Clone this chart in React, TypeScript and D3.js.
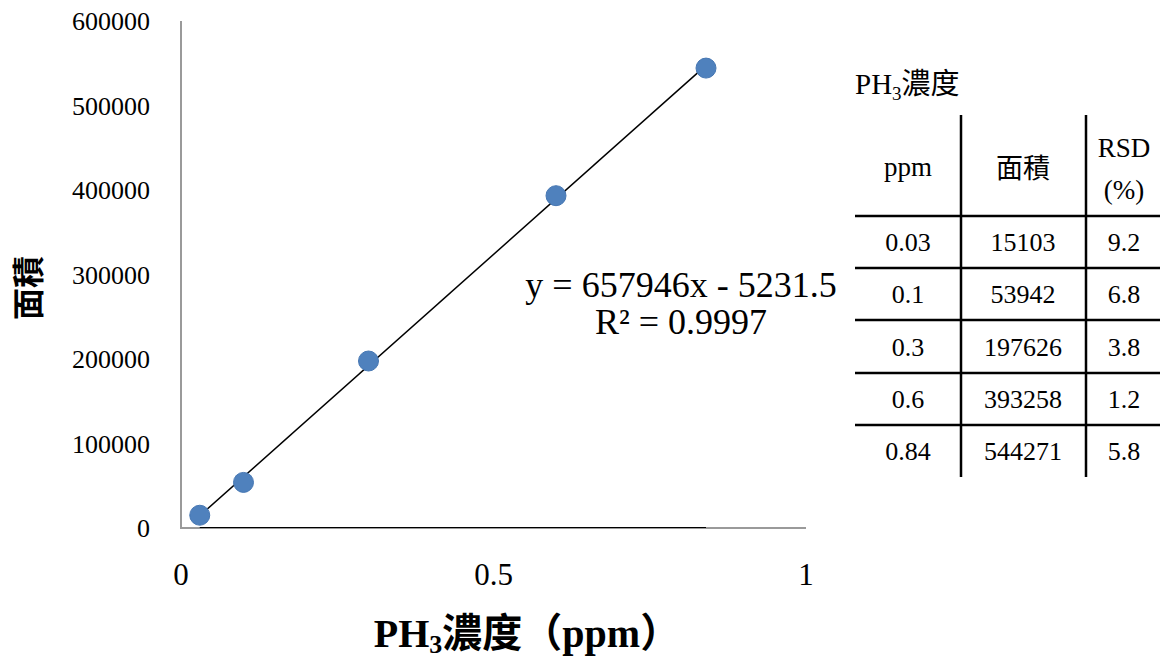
import React from "react";
import * as d3 from "d3";

const ppm = [0.03, 0.1, 0.3, 0.6, 0.84];
const ppmLabels = ["0.03", "0.1", "0.3", "0.6", "0.84"];
const area = [15103, 53942, 197626, 393258, 544271];
const rsd = ["9.2", "6.8", "3.8", "1.2", "5.8"];
const yTicks = [0, 100000, 200000, 300000, 400000, 500000, 600000];
const xTicks = [0, 0.5, 1];
const slope = 657946;
const intercept = -5231.5;
const r2 = "0.9997";

const W = 1160;
const H = 660;
const serif = "Liberation Serif";
const cjk = "Noto Sans CJK TC";

export default function App() {
  const x = d3.scaleLinear().domain([0, 1]).range([181, 806]);
  const y = d3.scaleLinear().domain([0, 600000]).range([528, 21]);
  const x0 = d3.min(ppm)!;
  const x1 = d3.max(ppm)!;
  const trend = d3.line<number>()
    .x((d) => x(d))
    .y((d) => y(slope * d + intercept));

  const colX = [855, 961, 1086, 1160];
  const colC = [908, 1023, 1124];
  const rowLines = [216, 268, 320, 373, 425];
  const rowC = [242, 294, 347, 399, 451];

  return (
    <svg width={W} height={H} style={{ position: "absolute", left: 0, top: 0, background: "#fff" }}>
      <rect width={W} height={H} fill="#fff" />
      {/* axes */}
      <line x1={x(0)} x2={x(0)} y1={y(600000)} y2={y(0)} stroke="#9a9a9a" strokeWidth={2} />
      <line x1={x(0) - 1} x2={x(1)} y1={y(0)} y2={y(0)} stroke="#9a9a9a" strokeWidth={2} />
      <line x1={x(x0)} x2={x(x1)} y1={y(0) - 0.5} y2={y(0) - 0.5} stroke="#000" strokeWidth={1.2} />
      {yTicks.map((t) => (
        <text key={t} x={150} y={y(t) + 9} textAnchor="end" fontFamily={serif} fontSize={26} fill="#000">
          {t}
        </text>
      ))}
      {xTicks.map((t) => (
        <text key={t} x={x(t)} y={585} textAnchor="middle" fontFamily={serif} fontSize={31} fill="#000">
          {t}
        </text>
      ))}
      {/* trendline */}
      <path d={trend([x0, x1]) || ""} stroke="#000" strokeWidth={1.5} fill="none" />
      {ppm.map((p, i) => (
        <circle key={i} cx={x(p)} cy={y(area[i])} r={10} fill="#4F81BD" stroke="#4677b3" strokeWidth={1} />
      ))}
      {/* equation */}
      <text x={681} y={297} textAnchor="middle" fontFamily={serif} fontSize={36} fill="#000">
        y = {slope}x - {Math.abs(intercept)}
      </text>
      <text x={681} y={334} textAnchor="middle" fontFamily={serif} fontSize={36} fill="#000">
        R² = {r2}
      </text>
      {/* axis titles */}
      <text x={527} y={647} textAnchor="middle" fontSize={40} fontWeight="bold" fill="#000">
        <tspan fontFamily={serif}>PH</tspan>
        <tspan fontFamily={serif} fontSize={26} dy={6}>3</tspan>
        <tspan fontFamily={cjk} dy={-6}>濃度（</tspan>
        <tspan fontFamily={serif}>ppm</tspan>
        <tspan fontFamily={cjk}>）</tspan>
      </text>
      <text
        transform={`translate(40,288) rotate(-90)`}
        textAnchor="middle"
        fontFamily={cjk}
        fontWeight="bold"
        fontSize={32}
        fill="#000"
      >
        面積
      </text>
      {/* table */}
      <text x={855} y={94} fontSize={29} fill="#000">
        <tspan fontFamily={serif}>PH</tspan>
        <tspan fontFamily={serif} fontSize={19} dy={6}>3</tspan>
        <tspan fontFamily={cjk} dy={-6}>濃度</tspan>
      </text>
      {[colX[1], colX[2]].map((cx) => (
        <line key={cx} x1={cx} x2={cx} y1={115} y2={477} stroke="#000" strokeWidth={2.5} />
      ))}
      {rowLines.map((ry) => (
        <line key={ry} x1={colX[0]} x2={colX[3]} y1={ry} y2={ry} stroke="#000" strokeWidth={2.5} />
      ))}
      <text x={colC[0]} y={176} textAnchor="middle" fontFamily={serif} fontSize={27} fill="#000">ppm</text>
      <text x={colC[1]} y={178} textAnchor="middle" fontFamily={cjk} fontSize={27} fill="#000">面積</text>
      <text x={colC[2]} y={157} textAnchor="middle" fontFamily={serif} fontSize={27} fill="#000">RSD</text>
      <text x={colC[2]} y={199} textAnchor="middle" fontFamily={serif} fontSize={27} fill="#000">(%)</text>
      {ppm.map((_, i) => (
        <g key={i}>
          <text x={colC[0]} y={rowC[i] + 9} textAnchor="middle" fontFamily={serif} fontSize={26} fill="#000">{ppmLabels[i]}</text>
          <text x={colC[1]} y={rowC[i] + 9} textAnchor="middle" fontFamily={serif} fontSize={26} fill="#000">{area[i]}</text>
          <text x={colC[2]} y={rowC[i] + 9} textAnchor="middle" fontFamily={serif} fontSize={26} fill="#000">{rsd[i]}</text>
        </g>
      ))}
    </svg>
  );
}
